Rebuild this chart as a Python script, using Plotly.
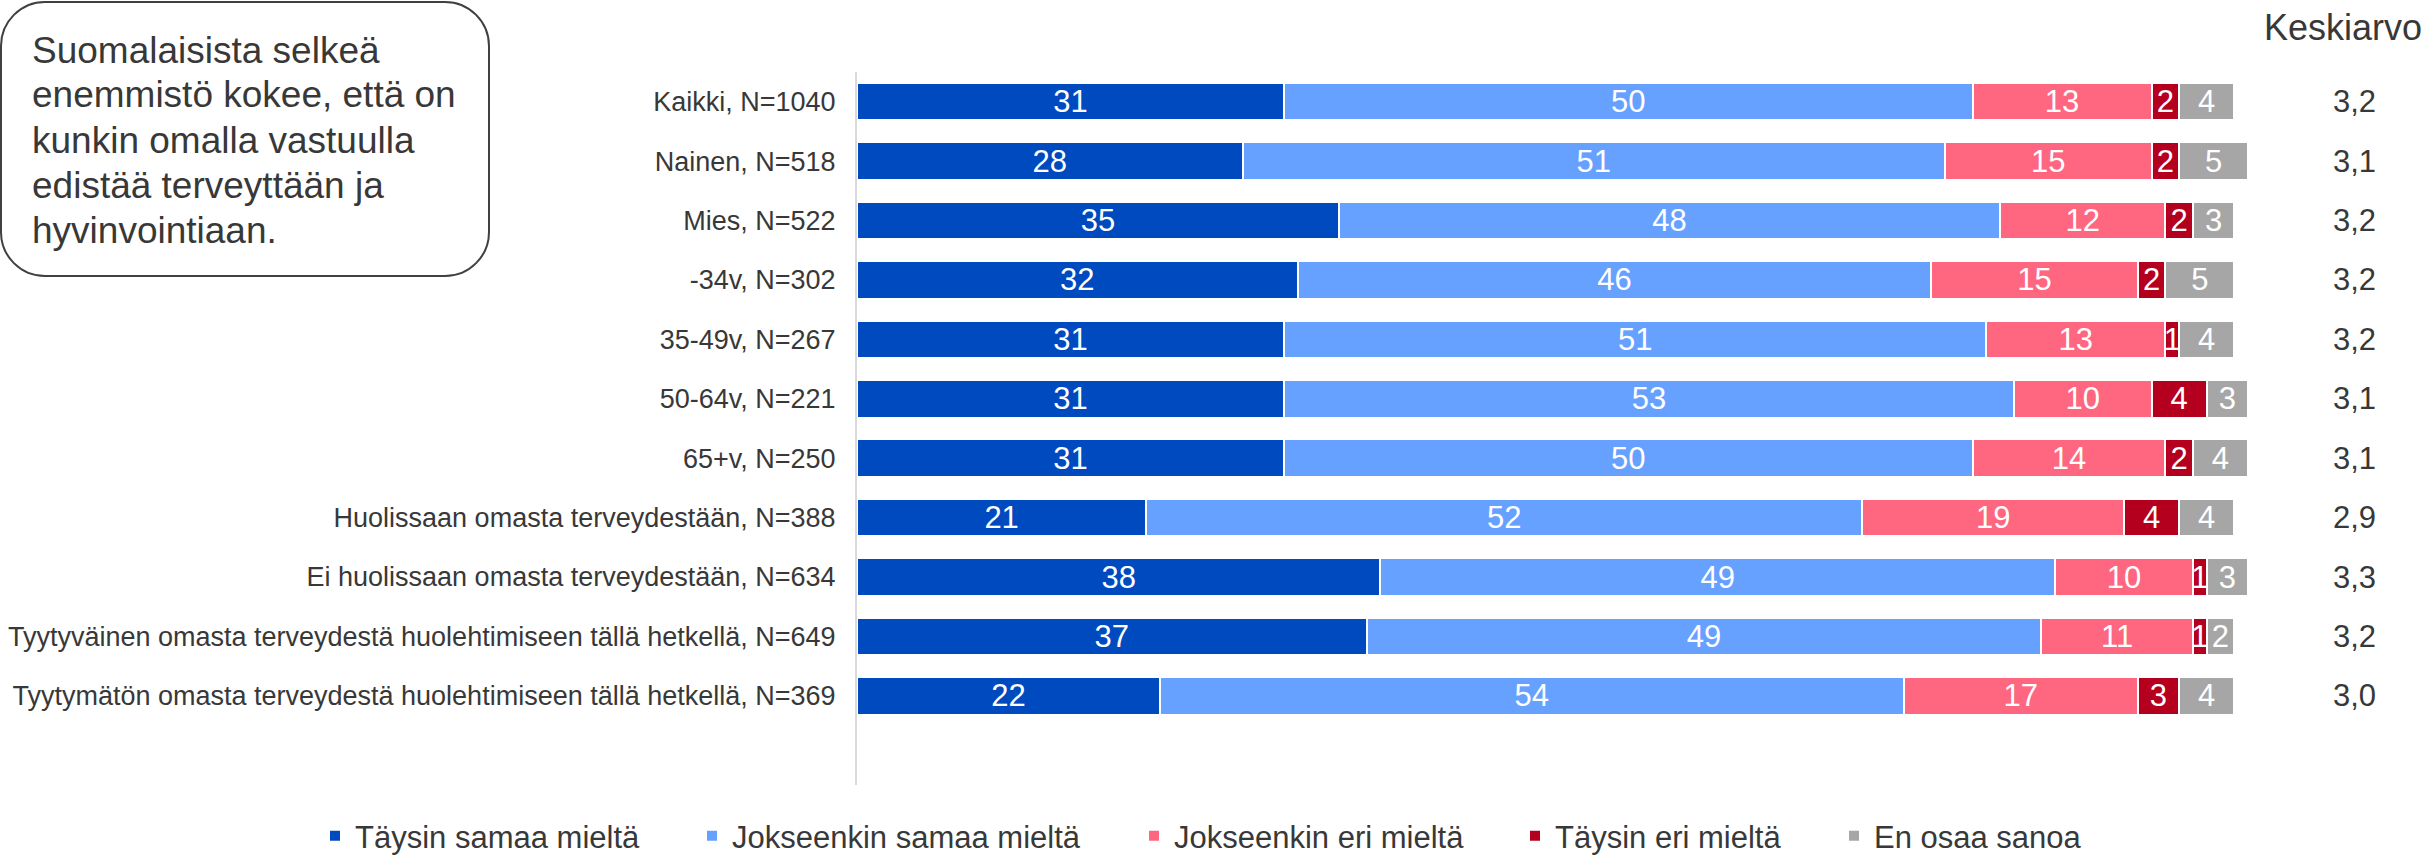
import plotly.graph_objects as go

# ---- data -------------------------------------------------------------
categories = [
    "Kaikki, N=1040",
    "Nainen, N=518",
    "Mies, N=522",
    "-34v, N=302",
    "35-49v, N=267",
    "50-64v, N=221",
    "65+v, N=250",
    "Huolissaan omasta terveydestään, N=388",
    "Ei huolissaan omasta terveydestään, N=634",
    "Tyytyväinen omasta terveydestä huolehtimiseen tällä hetkellä, N=649",
    "Tyytymätön omasta terveydestä huolehtimiseen tällä hetkellä, N=369",
]
taysin_samaa = [31, 28, 35, 32, 31, 31, 31, 21, 38, 37, 22]
jokseenkin_samaa = [50, 51, 48, 46, 51, 53, 50, 52, 49, 49, 54]
jokseenkin_eri = [13, 15, 12, 15, 13, 10, 14, 19, 10, 11, 17]
taysin_eri = [2, 2, 2, 2, 1, 4, 2, 4, 1, 1, 3]
en_osaa = [4, 5, 3, 5, 4, 3, 4, 4, 3, 2, 4]
keskiarvo = [3.2, 3.1, 3.2, 3.2, 3.2, 3.1, 3.1, 2.9, 3.3, 3.2, 3.0]

series_names = ["Täysin samaa mieltä", "Jokseenkin samaa mieltä",
                "Jokseenkin eri mieltä", "Täysin eri mieltä", "En osaa sanoa"]
series_values = [taysin_samaa, jokseenkin_samaa, jokseenkin_eri, taysin_eri, en_osaa]
series_colors = ["#004AC0", "#66A1FF", "#FF667F", "#B4001E", "#A6A6A6"]

info_lines = [
    "Suomalaisista selkeä",
    "enemmistö kokee, että on",
    "kunkin omalla vastuulla",
    "edistää terveyttään ja",
    "hyvinvointiaan.",
]
mean_header = "Keskiarvo"

# ---- layout geometry (pixels) -----------------------------------------
W, H = 2428, 856
PLOT_L, PLOT_R, PLOT_T, PLOT_B = 857, 2248, 72, 785
FONT = "Liberation Sans, Arial, sans-serif"
TEXT_COLOR = "#383838"
LEGEND_TEXT_X = [355, 732, 1174, 1555, 1874]   # left edge of each legend label
LEGEND_Y = 836


def px_x(px):
    return (px - PLOT_L) / (PLOT_R - PLOT_L)


def px_y(py):
    return (PLOT_B - py) / (PLOT_B - PLOT_T)


fig = go.Figure()
legend_ids = ["legend"] + [f"legend{i}" for i in range(2, len(series_names) + 1)]
for name, vals, color, lid in zip(series_names, series_values, series_colors, legend_ids):
    fig.add_trace(go.Bar(
        y=categories, x=vals, name=name, orientation="h",
        marker=dict(color=color, line=dict(color="white", width=2)),
        text=[str(v) for v in vals], textposition="inside",
        insidetextanchor="middle", textangle=0,
        textfont=dict(color="white", size=31, family=FONT),
        hoverinfo="skip", legend=lid,
    ))

# one legend box per series so each entry sits at its own spot
legend_layout = {}
for lid, tx in zip(legend_ids, LEGEND_TEXT_X):
    legend_layout[lid] = dict(
        orientation="h", xref="container", yref="container",
        x=(tx - 40) / W, xanchor="left", y=1 - LEGEND_Y / H, yanchor="middle",
        font=dict(size=31, color=TEXT_COLOR, family=FONT),
        bgcolor="rgba(0,0,0,0)", borderwidth=0,
    )

# mean column
for cat, m in zip(categories, keskiarvo):
    fig.add_annotation(x=px_x(2354), xref="paper", y=cat, yref="y",
                       text=f"{m:.1f}".replace(".", ","), showarrow=False,
                       xanchor="center", yanchor="middle",
                       font=dict(size=31, color=TEXT_COLOR, family=FONT))
fig.add_annotation(x=px_x(2343), xref="paper", y=px_y(28), yref="paper",
                   text=mean_header, showarrow=False, xanchor="center",
                   yanchor="middle", font=dict(size=36, color=TEXT_COLOR, family=FONT))

# rounded info box
x0, y0, x1, y1, r = 1, 2, 489, 276, 44
k = r * 0.5523


def pt(px, py):
    return f"{px_x(px):.6f},{px_y(py):.6f}"


path = (
    f"M {pt(x0 + r, y0)} L {pt(x1 - r, y0)} "
    f"C {pt(x1 - r + k, y0)} {pt(x1, y0 + r - k)} {pt(x1, y0 + r)} "
    f"L {pt(x1, y1 - r)} "
    f"C {pt(x1, y1 - r + k)} {pt(x1 - r + k, y1)} {pt(x1 - r, y1)} "
    f"L {pt(x0 + r, y1)} "
    f"C {pt(x0 + r - k, y1)} {pt(x0, y1 - r + k)} {pt(x0, y1 - r)} "
    f"L {pt(x0, y0 + r)} "
    f"C {pt(x0, y0 + r - k)} {pt(x0 + r - k, y0)} {pt(x0 + r, y0)} Z"
)
fig.add_shape(type="path", path=path, xref="paper", yref="paper",
              line=dict(color="#404040", width=2), fillcolor="white", layer="below")

for i, line in enumerate(info_lines):
    fig.add_annotation(x=px_x(30), xref="paper", y=px_y(50 + 45 * i), yref="paper",
                       text=line, showarrow=False, xanchor="left", yanchor="middle",
                       font=dict(size=37, color=TEXT_COLOR, family=FONT))

fig.update_layout(
    width=W, height=H, autosize=False,
    barmode="stack", bargap=0.37,
    margin=dict(l=PLOT_L, r=W - PLOT_R, t=PLOT_T, b=H - PLOT_B, pad=0,
                autoexpand=False),
    paper_bgcolor="white", plot_bgcolor="white",
    font=dict(family=FONT, color=TEXT_COLOR),
    uniformtext=dict(minsize=31, mode="show"),
    showlegend=True,
    xaxis=dict(visible=False, range=[0, 101], fixedrange=True, automargin=False),
    yaxis=dict(type="category", range=[11.5, -0.5], showgrid=False,
               zeroline=False, showline=True, linecolor="#D9D9D9", linewidth=2,
               ticks="", ticklabelstandoff=14, automargin=False,
               tickfont=dict(size=27, color=TEXT_COLOR, family=FONT)),
    **legend_layout,
)

fig.write_html("out.html")
